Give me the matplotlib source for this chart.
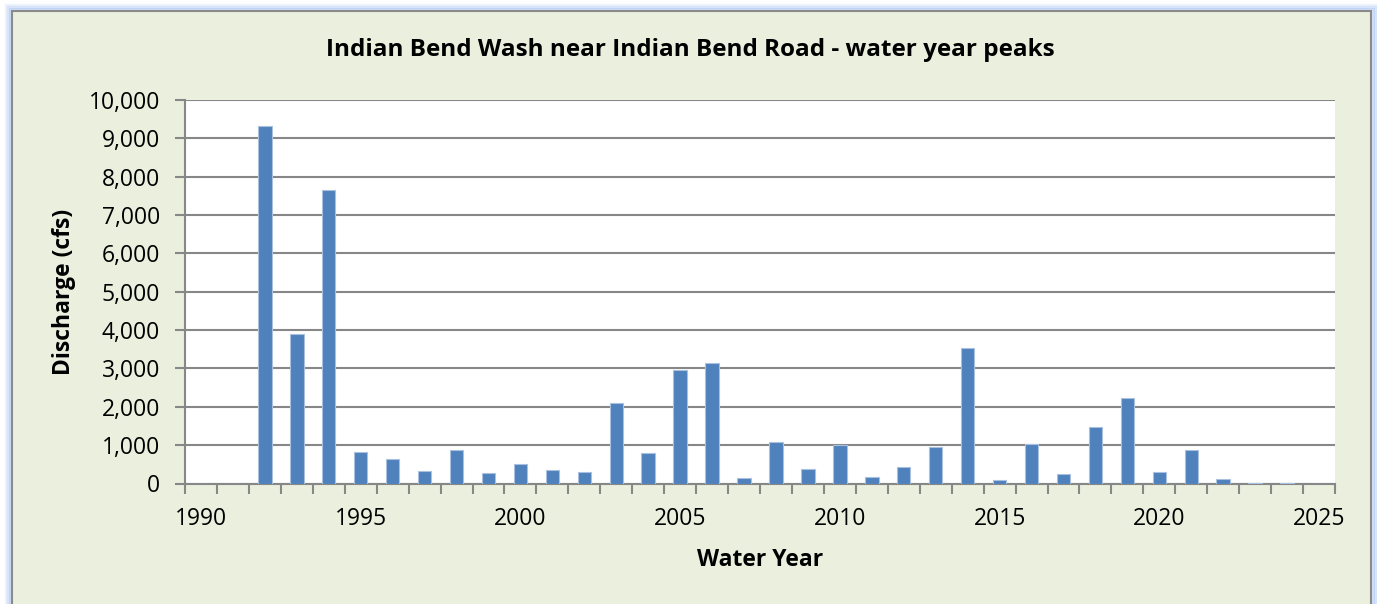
#plotting script - Indian Bend Wash water year peaks
import matplotlib
matplotlib.use('Agg')
import matplotlib.pyplot as plt
from matplotlib.patches import Rectangle
import numpy as np

plt.rcParams['font.family'] = ['Open Sans', 'DejaVu Sans']

#data (cfs), one value per water year
years = list(range(1990, 2026))
peaks = [0, 0, 9320, 3900, 7650, 830, 640, 320, 880, 270, 500, 360, 300,
         2100, 800, 2960, 3140, 140, 1080, 370, 1010, 180, 430, 960, 3530,
         90, 1040, 250, 1480, 2230, 290, 880, 110, 20, 20, 0]
ytick_vals = [0, 1000, 2000, 3000, 4000, 5000, 6000, 7000, 8000, 9000, 10000]
xtick_years = [1990, 1995, 2000, 2005, 2010, 2015, 2020, 2025]

title = 'Indian Bend Wash near Indian Bend Road - water year peaks'
xlab = 'Water Year'
ylab = 'Discharge (cfs)'

bg = '#ebefde'
gridc = '#878787'
barc = '#4f81bd'

fig = plt.figure(figsize=(13.77, 6.04), dpi=100)
fig.patch.set_facecolor('white')

#outer chart frame with a soft blue glow
W, H = 1377., 604.
for pad, a in [(6, 0.15), (4, 0.25), (2, 0.4)]:
    fig.patches.append(Rectangle(((12 - pad) / W, -0.1), (1359 + 2 * pad) / W, 1.1 - (11 - pad) / H,
                                 transform=fig.transFigure, facecolor='none',
                                 edgecolor='#8fb4f0', lw=2.5, alpha=a, zorder=0))
fig.patches.append(Rectangle((12 / W, -0.1), 1359 / W, 1.1 - 11 / H, transform=fig.transFigure,
                             facecolor=bg, edgecolor='#8a8a8a', lw=1.5, zorder=0.5))

ax = fig.add_axes([185 / W, 1 - 483.5 / H, 1150 / W, 383.5 / H])
ax.set_facecolor('white')
ax.set_zorder(2)

x = np.arange(len(years))
ax.bar(x, peaks, width=0.42, color=barc, edgecolor='#a9c0df', linewidth=0.8, zorder=3)

ax.set_xlim(-0.5, len(years) - 0.5)
ax.set_ylim(0, 10000)

ax.set_yticks(ytick_vals)
ax.set_yticklabels(['{:,}'.format(v) for v in ytick_vals], fontsize=16.5)
ax.yaxis.grid(True, color=gridc, lw=1.5, zorder=1)

#category boundaries get tick marks, labels every 5 years
ax.set_xticks(np.arange(-0.5, len(years)), minor=False)
ax.set_xticklabels([])
ax.set_xticks([years.index(y) for y in xtick_years], minor=True)
ax.set_xticklabels([str(y) for y in xtick_years], minor=True, fontsize=16.5)
ax.tick_params(axis='x', which='major', length=7, width=1.5, color=gridc, direction='out')
ax.tick_params(axis='x', which='minor', length=0, pad=17)
ax.tick_params(axis='y', length=7, width=1.5, color=gridc, pad=11)

for s in ['top', 'right']:
    ax.spines[s].set_visible(False)
for s in ['left', 'bottom']:
    ax.spines[s].set_color(gridc)
    ax.spines[s].set_linewidth(1.5)

ax.set_xlabel(xlab, fontsize=16.5, fontweight='bold', labelpad=12)
ax.set_ylabel(ylab, fontsize=16.5, fontweight='bold', labelpad=9)
fig.text(690 / W, 1 - 50 / H, title, fontsize=17.5, fontweight='bold', ha='center', va='center')

plt.savefig('out.png', dpi=100, facecolor=fig.get_facecolor())
